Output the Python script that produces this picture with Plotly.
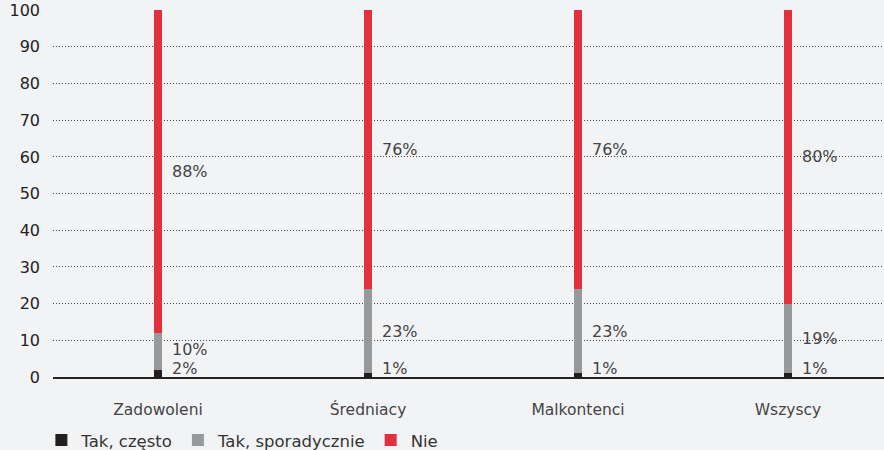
import plotly.graph_objects as go

categories = ["Zadowoleni", "Średniacy", "Malkontenci", "Wszyscy"]
tak_czesto = [2, 1, 1, 1]
tak_sporadycznie = [10, 23, 23, 19]
nie = [88, 76, 76, 80]
series_names = ["Tak, często", "Tak, sporadycznie", "Nie"]
colors = ["#231f20", "#98999b", "#e2303c"]
y_ticks = list(range(0, 101, 10))

BG = "#f2f3f5"
FONT = "DejaVu Sans"

fig = go.Figure()
series = [tak_czesto, tak_sporadycznie, nie]
for name, vals, col in zip(series_names, series, colors):
    fig.add_trace(go.Bar(
        x=categories, y=vals, name=name, marker_color=col,
        marker_line_width=0, width=0.04,
    ))

# labels to the right of each segment
for i, cat in enumerate(categories):
    base = 0
    for k, vals in enumerate(series):
        v = vals[i]
        center = base + v / 2
        if k == 0:
            ypos = max(center, 2.4)
        elif k == 1:
            ypos = max(center, 7.6)
        else:
            ypos = center
        fig.add_annotation(
            x=cat, y=ypos, text=f"{v}%", showarrow=False,
            xanchor="left", yanchor="middle", xshift=12,
            font=dict(family=FONT, size=16, color="#444"),
        )
        base += v

fig.update_layout(
    barmode="stack",
    width=884, height=450,
    paper_bgcolor=BG, plot_bgcolor=BG,
    margin=dict(l=53, r=0, t=10, b=73, autoexpand=False),
    bargap=0,
    font=dict(family=FONT, color="#333"),
    legend=dict(
        orientation="h", x=-0.014, xanchor="left", y=-0.125, yanchor="top",
        font=dict(family=FONT, size=16.5, color="#333"),
        traceorder="normal",
        bgcolor="rgba(0,0,0,0)",
    ),
    showlegend=True,
)
fig.update_xaxes(
    type="category", range=[-0.5, 3.457],
    showgrid=False, showline=True, linecolor="#222", linewidth=2,
    ticks="", tickfont=dict(family=FONT, size=15.5, color="#444"),
    ticklabelstandoff=17,
)
fig.update_yaxes(
    range=[0, 100.05], tickvals=y_ticks,
    showgrid=True, gridcolor="#444", griddash="1px,2px", gridwidth=1,
    zeroline=False, showline=False, ticks="",
    tickfont=dict(family=FONT, size=16, color="#222"),
    ticklabelstandoff=12,
)

fig.write_html("out.html", config={"displayModeBar": False},
               post_script="document.body.style.margin='0';")
